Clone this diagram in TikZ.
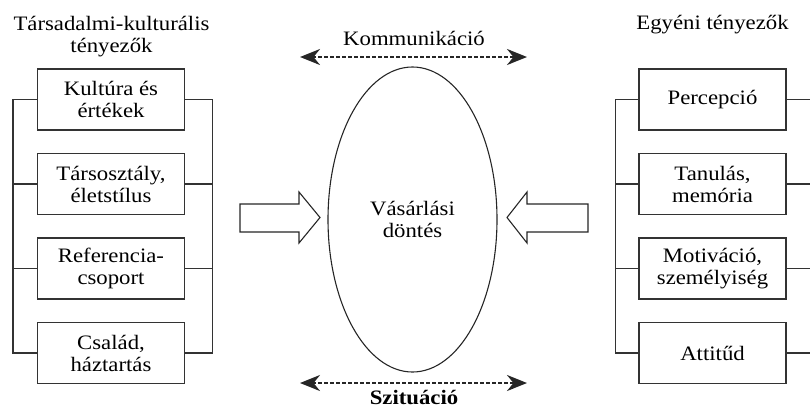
\documentclass[tikz,border=0pt]{standalone}
\usepackage{fontspec}
\setmainfont{Liberation Serif}[FakeStretch=1.11]
\usetikzlibrary{arrows.meta,shapes.geometric,positioning}

\begin{document}
\begin{tikzpicture}[x=1pt, y=-1pt,
    factor/.style={rectangle, draw=black!80, line width=1.1pt, minimum width=147pt, minimum height=61pt, align=center, inner sep=2pt},
    bracket/.style={draw=black!80, line width=1.1pt},
    flow/.style={draw=black!85, line width=2.6pt, dash pattern=on 4pt off 2pt, {Stealth[length=20pt,width=16pt]}-{Stealth[length=20pt,width=16pt]}},
    blockarrow/.style={draw=black!85, line width=1.1pt, fill=white, line join=miter},
    font=\fontsize{20.5}{22}\selectfont
]
\useasboundingbox (0,0) rectangle (810,410);

% Column titles
\node[align=center] (socialtitle) at (111.5,37) {Társadalmi-kulturális\\tényezők};
\node (indivtitle) at (712.5,25) {Egyéni tényezők};

% Left column - social and cultural factors
\node[factor] (culture) at (111,99.5) {Kultúra és\\értékek};
\node[factor] (classes) at (111,184) {Társosztály,\\életstílus};
\node[factor] (reference) at (111,268.5) {Referencia-\\csoport};
\node[factor] (family) at (111,353) {Család,\\háztartás};

% Right column - individual factors
\node[factor] (perception) at (712.5,99.5) {Percepció};
\node[factor] (learning) at (712.5,184) {Tanulás,\\memória};
\node[factor] (motivation) at (712.5,268.5) {Motiváció,\\személyiség};
\node[factor] (attitude) at (712.5,353) {Attitűd};

% Decision
\node[ellipse, draw=black!85, line width=1.1pt, minimum width=169pt, minimum height=305pt, align=center] (decision) at (412.5,219.5) {Vásárlási\\döntés};

% Brackets
\draw[bracket] (culture.west) -- ++(-24,0) |- (family.west);
\draw[bracket] (classes.west) -- ++(-24,0);
\draw[bracket] (reference.west) -- ++(-24,0);
\draw[bracket] (culture.east) -- ++(27,0) |- (family.east);
\draw[bracket] (classes.east) -- ++(27,0);
\draw[bracket] (reference.east) -- ++(27,0);
\draw[bracket] (perception.west) -- ++(-23,0) |- (attitude.west);
\draw[bracket] (learning.west) -- ++(-23,0);
\draw[bracket] (motivation.west) -- ++(-23,0);
\draw[bracket] (perception.east) -- ++(24,0) |- (attitude.east);
\draw[bracket] (learning.east) -- ++(24,0);
\draw[bracket] (motivation.east) -- ++(24,0);

% Block arrows
\draw[blockarrow] (240,204) -- (299,204) -- (299,192) -- (320,217.5) -- (299,243) -- (299,232) -- (240,232) -- cycle;
\draw[blockarrow] (588,204) -- (527,204) -- (527,192) -- (507,217.5) -- (527,243) -- (527,232) -- (588,232) -- cycle;

% Communication and situation
\node (communication) at (414,38) {Kommunikáció};
\node[font=\fontsize{20.5}{22}\selectfont\bfseries] (situation) at (414,397.5) {Szituáció};
\coordinate (comm-l) at (300,57);
\coordinate (comm-r) at (527,57);
\coordinate (sit-l) at (300,383);
\coordinate (sit-r) at (527,383);
\draw[flow] (comm-l) -- (comm-r);
\draw[flow] (sit-l) -- (sit-r);

\end{tikzpicture}
\end{document}
